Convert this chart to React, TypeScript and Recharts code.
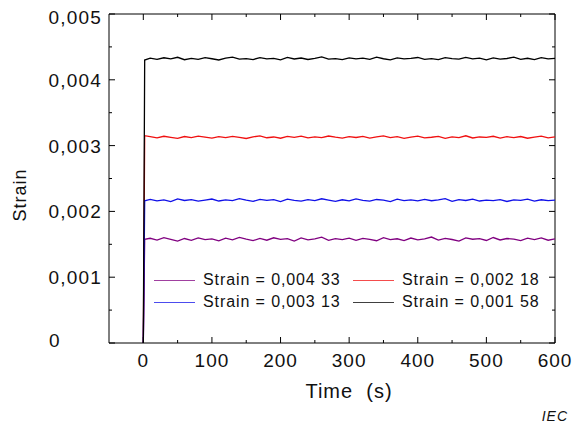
import { LineChart, Line, XAxis, YAxis, ReferenceLine, Legend } from 'recharts'

// time in seconds
const time = [
  0, 2,
  10, 20, 30, 40, 50, 60, 70, 80, 90, 100,
  110, 120, 130, 140, 150, 160, 170, 180, 190, 200,
  210, 220, 230, 240, 250, 260, 270, 280, 290, 300,
  310, 320, 330, 340, 350, 360, 370, 380, 390, 400,
  410, 420, 430, 440, 450, 460, 470, 480, 490, 500,
  510, 520, 530, 540, 550, 560, 570, 580, 590, 600,
]

const strainPurple = [
  0, 0.001575,
  0.001592, 0.001565, 0.001601, 0.001574, 0.001548, 0.001588, 0.00156, 0.001597, 0.001571, 0.001583,
  0.001552, 0.001594, 0.001569, 0.001605, 0.001578, 0.001556, 0.00159, 0.001562, 0.001599, 0.001575,
  0.001585, 0.00155, 0.001596, 0.001567, 0.001581, 0.001608, 0.001559, 0.001587, 0.001572, 0.001593,
  0.001561, 0.001589, 0.001576, 0.001554, 0.0016, 0.00157, 0.001584, 0.001557, 0.001595, 0.001568,
  0.001582, 0.00161, 0.001563, 0.001591, 0.001573, 0.001549, 0.001598, 0.001577, 0.001586, 0.001558,
  0.001603, 0.001566, 0.001588, 0.001579, 0.001555, 0.001594, 0.001571, 0.001597, 0.001562, 0.001584,
]

const strainRed = [
  0, 0.00315,
  0.003135, 0.003118, 0.003142, 0.003126, 0.00311, 0.003138, 0.003122, 0.003145, 0.003129, 0.003114,
  0.003136, 0.00312, 0.003141, 0.003125, 0.003108, 0.003133, 0.003147, 0.003119, 0.003131, 0.003112,
  0.003139, 0.003124, 0.003143, 0.003117, 0.003134, 0.003121, 0.003146, 0.003128, 0.003113, 0.003137,
  0.003123, 0.00314, 0.003115, 0.003132, 0.003148, 0.00312, 0.003135, 0.003109, 0.00313, 0.003144,
  0.003118, 0.003127, 0.003139, 0.003111, 0.003133, 0.003122, 0.003149, 0.003116, 0.003131, 0.003125,
  0.003142, 0.003114, 0.003136, 0.003121, 0.003138, 0.003112, 0.003129, 0.003145, 0.003119, 0.003133,
]

const strainBlue = [
  0, 0.00216,
  0.002182, 0.00216, 0.002175, 0.002148, 0.00219, 0.002166, 0.002179, 0.002155, 0.002172, 0.002188,
  0.002158, 0.002176, 0.002163, 0.002195, 0.00217, 0.002152, 0.002184, 0.002167, 0.002178, 0.00215,
  0.002186, 0.002169, 0.002157, 0.00218, 0.002164, 0.002192, 0.002173, 0.002154, 0.002177, 0.002161,
  0.002189, 0.002168, 0.002156, 0.002181, 0.002171, 0.002149, 0.002185, 0.002165, 0.002176, 0.002159,
  0.002183, 0.002162, 0.002174, 0.002193, 0.002153, 0.002178, 0.002166, 0.002187, 0.002158, 0.002172,
  0.002164, 0.00218, 0.002151, 0.002175, 0.002169, 0.002186, 0.002157, 0.002177, 0.002163, 0.00217,
]

const strainBlack = [
  0, 0.0043,
  0.00433, 0.00431, 0.004335, 0.004318, 0.004342, 0.004305, 0.004326, 0.004312, 0.004338, 0.00432,
  0.004301, 0.004329, 0.004344, 0.004315, 0.004323, 0.004308, 0.004336, 0.004319, 0.004327, 0.004303,
  0.00434, 0.004316, 0.004331, 0.004309, 0.004325, 0.004347, 0.004313, 0.004322, 0.004306, 0.004334,
  0.004318, 0.004329, 0.004311, 0.004343, 0.00432, 0.004304, 0.004332, 0.004317, 0.004326, 0.004339,
  0.00431, 0.004323, 0.004307, 0.004336, 0.004321, 0.004314, 0.004341, 0.004318, 0.004328, 0.004302,
  0.004333, 0.004315, 0.004324, 0.004345, 0.004312, 0.004327, 0.004308, 0.004337, 0.004319, 0.004326,
]

const legendLabels = ['Strain = 0,004 33', 'Strain = 0,002 18', 'Strain = 0,003 13', 'Strain = 0,001 58']

const xTicks = [-50, 0, 50, 100, 150, 200, 250, 300, 350, 400, 450, 500, 550, 600]
const yTicks = [0, 0.0005, 0.001, 0.0015, 0.002, 0.0025, 0.003, 0.0035, 0.004, 0.0045, 0.005]

const data = time.map((t, i) => ({
  t,
  purple: strainPurple[i],
  red: strainRed[i],
  blue: strainBlue[i],
  black: strainBlack[i],
}))

const W = 576
const H = 427
const M = { top: 14, right: 21, bottom: 0, left: 0 }
const PLOT_TOP = M.top
const PLOT_RIGHT = W - M.right
const FONT = '"Liberation Sans", Arial, sans-serif'

const fmtY = (v: number) => (v === 0 ? '0' : v.toFixed(3).replace('.', ','))

function YTick(props: any) {
  const { x, y, payload } = props
  const v = payload.value as number
  const axisX = x + 7
  const major = Math.abs(v * 1000 - Math.round(v * 1000)) < 1e-6
  const len = major ? 6 : 3
  return (
    <g>
      <line x1={axisX} y1={y} x2={axisX + len} y2={y} stroke="#000" />
      <line x1={PLOT_RIGHT} y1={y} x2={PLOT_RIGHT - len} y2={y} stroke="#000" />
      {major && (
        <text
          x={v === 0 ? 55 : x}
          y={v === 0.005 ? y + 3 : v === 0 ? y - 3 : y}
          dy={7}
          textAnchor={v === 0 ? 'middle' : 'end'}
          fontSize={19}
          fontFamily={FONT}
          letterSpacing={1.2}
          fill="#111"
        >
          {fmtY(v)}
        </text>
      )}
    </g>
  )
}

function XTick(props: any) {
  const { x, y, payload } = props
  const v = payload.value as number
  if (v < 0) return <g />
  const major = v % 100 === 0
  const len = major ? 6 : 3
  return (
    <g>
      <line x1={x} y1={y} x2={x} y2={y - len} stroke="#000" />
      <line x1={x} y1={PLOT_TOP} x2={x} y2={PLOT_TOP + len} stroke="#000" />
      {major && (
        <text x={x} y={y + 24} textAnchor="middle" fontSize={19} fontFamily={FONT} letterSpacing={1} fill="#111">
          {v}
        </text>
      )}
    </g>
  )
}

function LegendBox(props: any) {
  const items = [...(props.payload || [])].sort(
    (a: any, b: any) => legendLabels.indexOf(a.value) - legendLabels.indexOf(b.value)
  )
  return (
    <div style={{ display: 'grid', gridTemplateColumns: '199px 199px', fontFamily: FONT, fontSize: 16, letterSpacing: 0.9, color: '#111' }}>
      {items.map((it: any) => (
        <div key={it.value} style={{ display: 'flex', alignItems: 'center', height: 22 }}>
          <span style={{ display: 'inline-block', width: 41, height: 1, background: it.color, opacity: 0.75, marginRight: 8 }} />
          <span style={{ whiteSpace: 'pre' }}>{it.value}</span>
        </div>
      ))}
    </div>
  )
}

export default function App() {
  return (
    <div style={{ position: 'absolute', left: 0, top: 0, width: W, height: H, background: '#fff' }}>
      <LineChart width={W} height={H} data={data} margin={M}>
        <XAxis
          dataKey="t"
          type="number"
          domain={[-50, 600]}
          ticks={xTicks}
          allowDataOverflow
          height={84}
          tickSize={0}
          tickMargin={0}
          tickLine={false}
          axisLine={{ stroke: '#000' }}
          tick={<XTick />}
          interval={0}
        />
        <YAxis
          type="number"
          domain={[0, 0.005]}
          ticks={yTicks}
          allowDataOverflow
          width={109}
          tickSize={0}
          tickMargin={7}
          tickLine={false}
          axisLine={{ stroke: '#000' }}
          tick={<YTick />}
          interval={0}
        />
        <ReferenceLine x={600} stroke="#000" />
        <ReferenceLine y={0.005} stroke="#000" />
        <Legend
          layout="horizontal"
          verticalAlign="middle"
          align="center"
          content={<LegendBox />}
          wrapperStyle={{ position: 'absolute', left: 154, top: 269, width: 400 }}
        />
        <Line dataKey="purple" name={legendLabels[0]} stroke="#800080" strokeWidth={1.3} dot={false} isAnimationActive={false} />
        <Line dataKey="red" name={legendLabels[1]} stroke="#f01010" strokeWidth={1.3} dot={false} isAnimationActive={false} />
        <Line dataKey="blue" name={legendLabels[2]} stroke="#1010e8" strokeWidth={1.3} dot={false} isAnimationActive={false} />
        <Line dataKey="black" name={legendLabels[3]} stroke="#000" strokeWidth={1.3} dot={false} isAnimationActive={false} />
      </LineChart>
      <div
        style={{
          position: 'absolute',
          left: 20,
          top: 195,
          transform: 'translate(-50%, -50%) rotate(-90deg)',
          fontFamily: FONT,
          fontSize: 18,
          letterSpacing: 1,
          color: '#111',
        }}
      >
        Strain
      </div>
      <div
        style={{
          position: 'absolute',
          left: 349,
          top: 391,
          transform: 'translate(-50%, -50%)',
          fontFamily: FONT,
          fontSize: 20,
          letterSpacing: 1,
          whiteSpace: 'pre',
          color: '#111',
        }}
      >
        {'Time  (s)'}
      </div>
      <div
        style={{
          position: 'absolute',
          right: 8,
          top: 416,
          transform: 'translateY(-50%)',
          fontFamily: FONT,
          fontSize: 14,
          fontStyle: 'italic',
          letterSpacing: 1,
          color: '#111',
        }}
      >
        IEC
      </div>
    </div>
  )
}
